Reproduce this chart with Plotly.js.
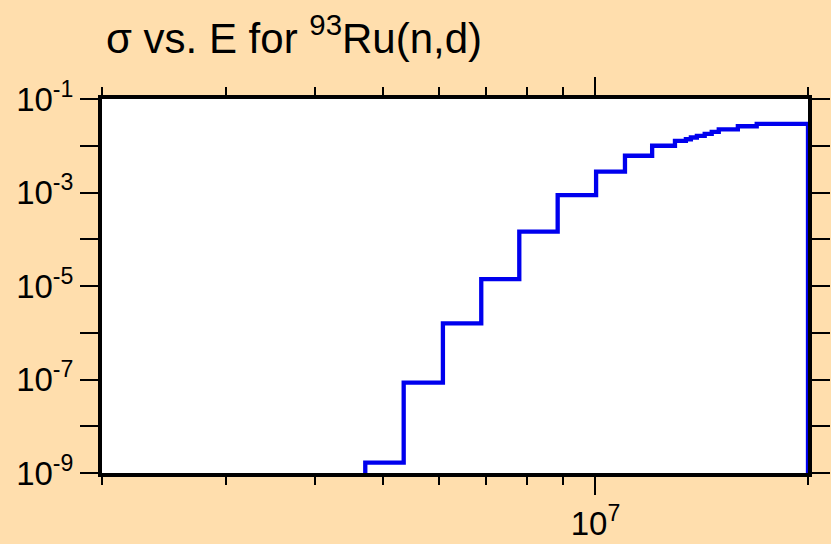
<!DOCTYPE html>
<html>
<head>
<meta charset="utf-8">
<script src="https://cdn.plot.ly/plotly-3.0.1.min.js"></script>
<style>
  html, body { margin: 0; padding: 0; background: #FFDEAD; }
  #chart { width: 831px; height: 544px; }
</style>
</head>
<body>
<div id="chart"></div>
<script>
// Step-function cross section sigma(E) for 93Ru(n,d); 'hv' steps
const energy = [4.72e6, 4.72e6, 5.35e6, 6.08e6, 6.89e6, 7.80e6, 8.84e6, 1.002e7, 1.101e7, 1.203e7,
                1.296e7, 1.343e7, 1.365e7, 1.392e7, 1.428e7, 1.461e7, 1.495e7, 1.591e7, 1.692e7, 2.0e7];
const sigma  = [1e-12, 1.66e-9, 8.6e-8, 1.59e-6, 1.40e-5, 1.45e-4, 8.79e-4, 2.79e-3, 6.11e-3, 1.00e-2,
                1.266e-2, 1.376e-2, 1.503e-2, 1.634e-2, 1.786e-2, 1.971e-2, 2.23e-2, 2.61e-2, 2.95e-2, 1e-12];

const xMajorVals = [1e7];
const xMajorText = ["10<sup>7</sup>"];
const xMinorVals = [2e6, 3e6, 4e6, 5e6, 6e6, 7e6, 8e6, 9e6, 2e7];
const yTickVals = [1e-1, 1e-3, 1e-5, 1e-7, 1e-9];
const yTickText = ["10<sup>-1</sup>", "10<sup>-3</sup>", "10<sup>-5</sup>", "10<sup>-7</sup>", "10<sup>-9</sup>"];
const yMinorVals = [1e-2, 1e-4, 1e-6, 1e-8];

const trace = {
  x: energy, y: sigma, type: 'scatter', mode: 'lines',
  line: { shape: 'hv', color: '#0000EE', width: 4.3 },
  hoverinfo: 'skip'
};

const layout = {
  width: 831, height: 544,
  paper_bgcolor: '#FFDEAD', plot_bgcolor: '#FFFFFF',
  margin: { l: 102, r: 23, t: 99, b: 71, pad: 0 },
  showlegend: false,
  font: { family: 'Liberation Sans, Arial, sans-serif', color: '#000000', size: 33 },
  title: {
    text: 'σ vs. E for <sup>93</sup>Ru(n,d)',
    font: { family: 'Liberation Sans, Arial, sans-serif', size: 42, color: '#000000' },
    x: 106 / 831, xref: 'container', xanchor: 'left',
    y: 1 - 38 / 544, yref: 'container', yanchor: 'middle'
  },
  xaxis: {
    type: 'log', range: [Math.log10(2e6), Math.log10(2e7)],
    showgrid: false, zeroline: false,
    showline: true, linecolor: '#000000', linewidth: 4, mirror: 'ticks',
    ticks: 'outside', ticklen: 18, tickwidth: 2, tickcolor: '#000000',
    tickmode: 'array', tickvals: xMajorVals, ticktext: xMajorText,
    tickfont: { size: 33 },
    minor: { tickmode: 'array', tickvals: xMinorVals, ticks: 'outside', ticklen: 8, tickwidth: 2, tickcolor: '#000000', showgrid: false }
  },
  yaxis: {
    type: 'log', range: [-9, -1],
    showgrid: false, zeroline: false,
    showline: true, linecolor: '#000000', linewidth: 4, mirror: 'ticks',
    ticks: 'outside', ticklen: 18, tickwidth: 2, tickcolor: '#000000',
    tickmode: 'array', tickvals: yTickVals, ticktext: yTickText,
    tickfont: { size: 33 },
    minor: { tickmode: 'array', tickvals: yMinorVals, ticks: 'outside', ticklen: 18, tickwidth: 2, tickcolor: '#000000', showgrid: false }
  }
};

Plotly.newPlot('chart', [trace], layout, { staticPlot: true, displayModeBar: false });
</script>
</body>
</html>
